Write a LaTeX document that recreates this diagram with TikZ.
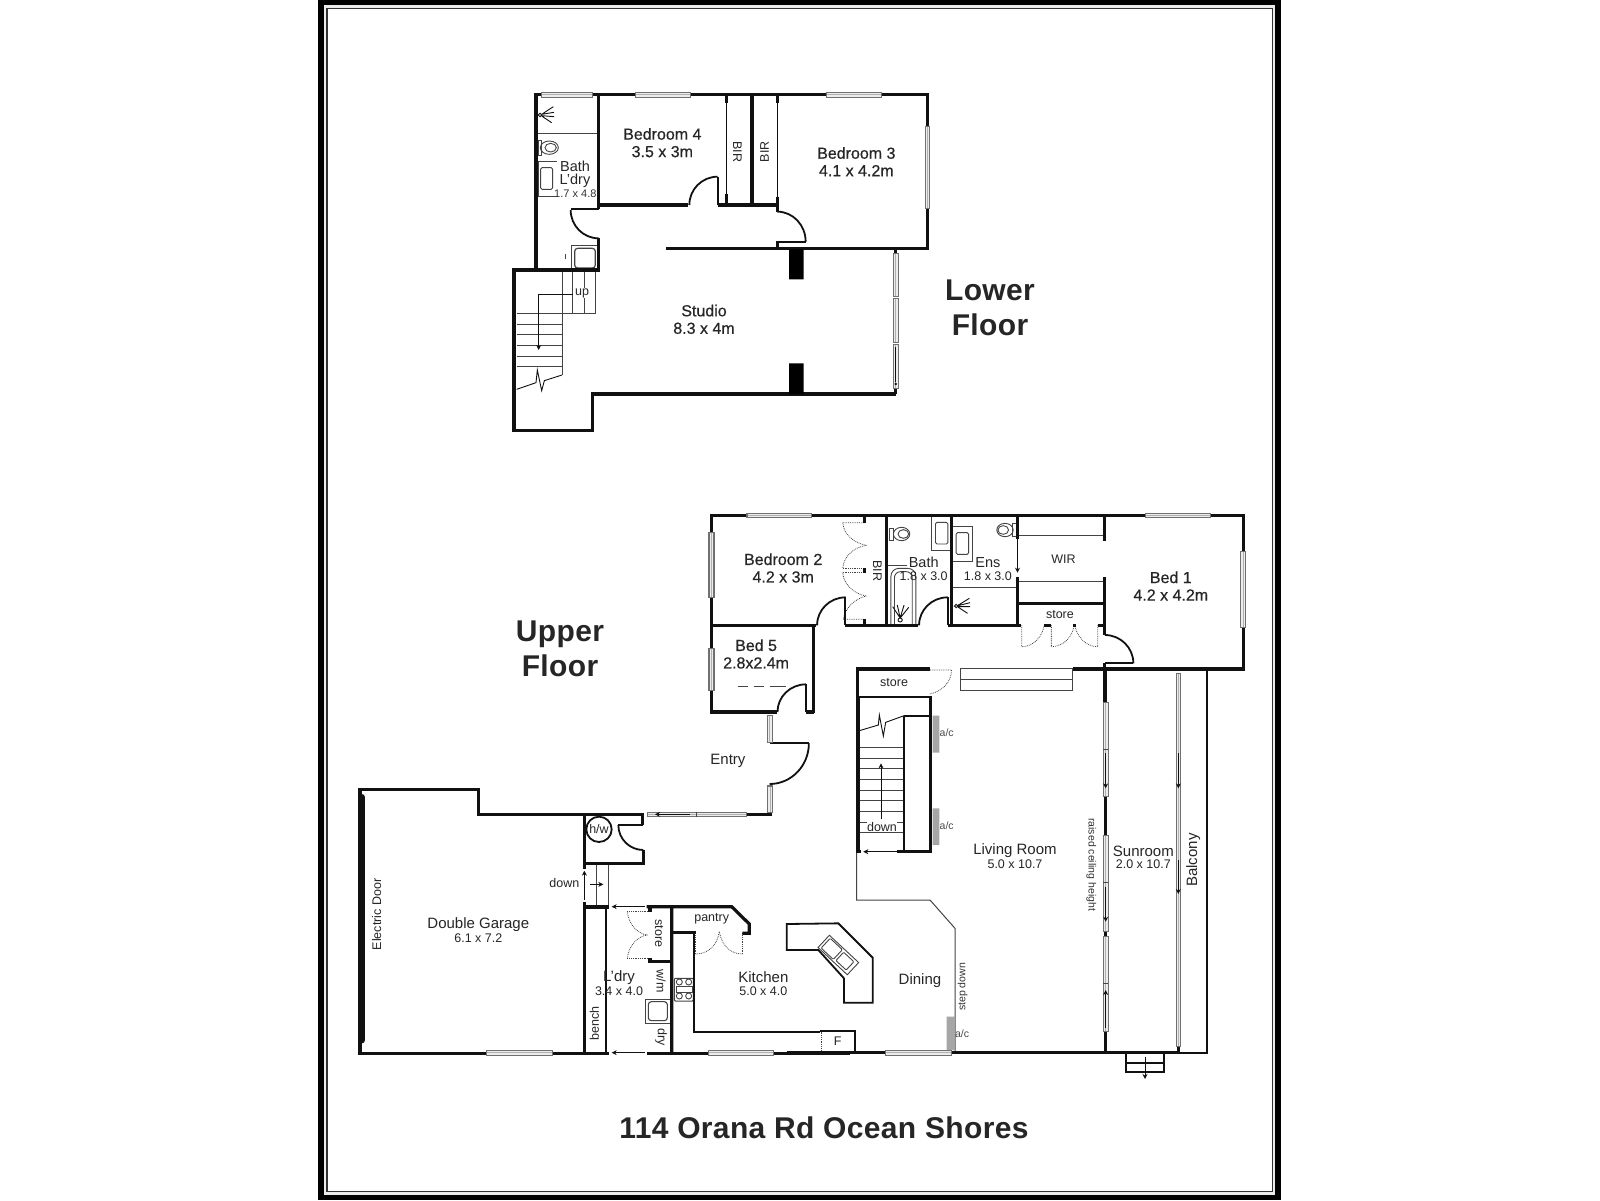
\documentclass[tikz,border=0pt]{standalone}
\usepackage{fontspec}
\setmainfont{Liberation Sans}
\newfontfamily\semibf[FakeBold=0.5]{Liberation Sans}
\usetikzlibrary{arrows.meta}
\definecolor{wallc}{HTML}{111111}
\definecolor{glassc}{HTML}{ECECEC}
\definecolor{fixc}{HTML}{444444}
\definecolor{winedge}{HTML}{707070}
\definecolor{winmid}{HTML}{B0B0B0}
\tikzset{
 wall/.style={draw=wallc,line width=3.2pt,line cap=butt,line join=miter},
 midwall/.style={draw=wallc,line width=1.8pt},
 thinl/.style={draw=wallc,line width=0.9pt},
 fix/.style={draw=fixc,line width=0.9pt},
 doordash/.style={draw=fixc,line width=0.8pt,densely dotted},
 lbl/.style={font=\semibf\fontsize{16}{17.5}\selectfont,align=center,text=black!85,inner sep=0pt},
 lblb/.style={font=\fontsize{15}{14}\selectfont,align=center,text=black!85,inner sep=0pt},
 lbls/.style={font=\fontsize{12.5}{14}\selectfont,align=center,text=black!85,inner sep=0pt},
 lblt/.style={font=\fontsize{10.5}{12}\selectfont,align=center,text=black!80,inner sep=0pt},
 titlet/.style={font=\fontsize{30}{35}\bfseries\selectfont\addfontfeatures{LetterSpace=1.2},align=center,text=black!85,inner sep=0pt},
 arr/.style={draw=wallc,line width=0.8pt,-{Stealth[length=5pt,width=5pt]}},
 zoomc/.style={x=0.33333pt,y=-0.33333pt},
 zoomw/.style={x=0.3566pt,y=-0.33333pt},
}
\newcommand{\winh}[3]{% x1 x2 y
 \fill[winedge] (#1,#3-8.5) rectangle (#2,#3+8.5);
 \fill[glassc] (#1+3,#3-5.5) rectangle (#2-3,#3+5.5);
 \fill[winmid] (#1+3,#3-1.5) rectangle (#2-3,#3+1.5);}
\newcommand{\winv}[3]{% x y1 y2
 \fill[winedge] (#1-8.5,#2) rectangle (#1+8.5,#3);
 \fill[glassc] (#1-5.5,#2+3) rectangle (#1+5.5,#3-3);
 \fill[winmid] (#1-1.5,#2+3) rectangle (#1+1.5,#3-3);}
\begin{document}
\begin{tikzpicture}[x=1pt,y=-1pt]
\useasboundingbox (0,0) rectangle (1600,1200);
\fill[white] (0,0) rectangle (1600,1200);
% frame
\fill[black] (318,0) rectangle (1281,1200);
\fill[glassc] (324,5) rectangle (1275,1194.5);
\fill[black!80] (326,8) rectangle (1273,1192);
\fill[white] (327.5,9) rectangle (1272,1190.5);

% ===== LOWER FLOOR =====
\begin{scope}[shift={(500,80)},zoomc]
 % fixtures
 \draw[fix] (108,160)--(296,160);
 \draw[fix] (50,700)--(186,700) (50,732)--(186,732) (50,764)--(186,764) (50,796)--(186,796) (50,828)--(186,828) (50,860)--(186,860);
 \draw[fix] (186,570)--(186,885) (218,570)--(218,700) (252,570)--(252,700) (287,570)--(287,700) (186,700)--(287,700);
 \draw[thinl] (50,928)--(108,908)--(112,870)--(125,932)--(133,902)--(186,885);
 \draw[arr] (218,642)--(116,642)--(116,810);
 % bath fixtures
 \draw[fix] (148,203) ellipse (27 and 20);
 \draw[fix] (152,203) ellipse (17 and 13);
 \draw[fix] (116,180) rectangle (124,225);
 \draw[fix] (115,245)--(172,245) (115,245)--(115,350)--(172,350);
 \draw[fix,rounded corners=1.5pt] (122,263) rectangle (158,328);
 \draw[fix] (214,497) rectangle (294,570);
 \draw[fix,rounded corners=3pt,line width=1.2pt] (224,505) rectangle (286,564);
 \draw[fix] (196,523)--(196,538);
 \draw[thinl] (120,105) circle (5);
 \draw[thinl] (125,103)--(160,80) (125,103)--(162,97) (125,107)--(162,110) (125,108)--(155,128);
 % walls
 \draw[wall] (108,570)--(108,44)--(1282,44)--(1282,506)--(497,506);
 \draw[wall] (108,570)--(42,570)--(42,1052)--(278,1052)--(278,942)--(1188,942);
 \draw[wall] (296,44)--(296,388) (296,475)--(296,570)--(108,570);
 \draw[wall] (296,375)--(565,375) (655,375)--(832,375);
 \draw[midwall] (296,388)--(212,388);
 \draw[midwall] (212,390) arc[start angle=180,end angle=270,x radius=84,y radius=-85];
 \draw[wall] (756,44)--(756,375);
 \draw[thinl] (680,44)--(680,375) (832,44)--(832,395);
 \draw[wall] (680,44)--(680,68) (680,342)--(680,375) (832,44)--(832,70) (832,350)--(832,395);
 \draw[midwall] (655,375)--(655,290);
 \draw[midwall] (568,375) arc[start angle=180,end angle=90,x radius=85,y radius=-85];
 \draw[midwall] (832,395) arc[start angle=90,end angle=0,x radius=85,y radius=-90];
 \draw[midwall] (832,485)--(917,485);
 \draw[wall] (832,482)--(832,506);
 \fill[black] (867,508) rectangle (911,598) (867,850) rectangle (911,942);
 % windows
 \winh{122}{280}{44} \winh{405}{574}{44} \winh{977}{1146}{44}
 \winv{1282}{137}{387}
 \draw[wall] (1187,506)--(1187,518);
 \winv{1187}{518}{652} \winv{1187}{655}{790} \winv{1187}{793}{928}
 \draw[wall] (1187,928)--(1187,942);
 \draw[thinl] (1187,800)--(1187,905);
 \fill[wallc] (1187,912) circle (4);
 % labels
 \node[lbl] (bed4) at (487,188) {Bedroom 4\\3.5 x 3m};
 \node[lbl] (bed3) at (1069,245) {Bedroom 3\\4.1 x 4.2m};
 \node[lbl] (studio) at (612,718) {Studio\\8.3 x 4m};
 \node[lbls,rotate=-90] (bir1) at (712,215) {BIR};
 \node[lbls,rotate=90] (bir2) at (794,215) {BIR};
 \node[lbl,font=\fontsize{14.5}{12.5}\selectfont] (bathl) at (225,283) {Bath\\L’dry};
 \node[lblt,font=\fontsize{11}{12}\selectfont] (bathd) at (226,340) {1.7 x 4.8};
 \node[lblb,font=\fontsize{12.5}{14}\selectfont,fill=white,inner sep=0.5pt] (up) at (246,640) {up};
\end{scope}
\node[titlet] (lowerfl) at (990,308) {Lower\\Floor};
\node[titlet] (upperfl) at (560,649) {Upper\\Floor};

% ===== UPPER RIGHT =====
\begin{scope}[shift={(700.1,500)},zoomw]
 % fixtures
 \draw[fix] (527,195)--(580,195);
 \draw[fix] (565,102) ellipse (23 and 20);
 \draw[fix] (570,102) ellipse (15 and 13);
 \draw[fix] (530,85) rectangle (542,122);
 \draw[fix] (650,50) rectangle (705,150);
 \draw[fix,rounded corners=1.5pt] (660,67) rectangle (695,132);
 \draw[fix] (710,78)--(765,78)--(765,183)--(710,183);
 \draw[fix,rounded corners=1.5pt] (718,98) rectangle (753,163);
 \draw[fix] (710,262)--(890,262);
 \draw[fix] (855,90) ellipse (23 and 20);
 \draw[fix] (850,90) ellipse (15 and 13);
 \draw[fix] (875,70) rectangle (888,110);
 \draw[fix,rounded corners=8pt] (535,372)--(535,205)--(605,205)--(605,372);
 \draw[fix,rounded corners=6pt] (545,372)--(545,215)--(595,215)--(595,372);
 \draw[fix] (537,372)--(605,372);
 \draw[thinl] (561,360) circle (6);
 \draw[thinl] (561,354)--(540,320) (561,354)--(553,315) (561,354)--(572,315) (561,354)--(585,322);
 \draw[thinl] (718,318) circle (5);
 \draw[thinl] (723,316)--(755,295) (723,317)--(757,308) (723,320)--(757,320) (723,321)--(750,340);
 \draw[fix] (890,105)--(1135,105) (890,243)--(1135,243);
 % dashed doors
 \draw[doordash] (400,68)--(462,68) (400,68) .. controls (402,105) and (435,130) .. (466,136);
 \draw[doordash] (400,205)--(462,205) (400,218)--(462,218);
 \draw[doordash] (466,136) .. controls (430,142) and (402,170) .. (400,205);
 \draw[doordash] (400,218) .. controls (402,255) and (435,283) .. (466,288);
 \draw[doordash] (402,358)--(462,358) (402,358) .. controls (405,325) and (435,295) .. (466,288);
 \draw[doordash] (902,376)--(902,440) (902,440) .. controls (935,440) and (960,410) .. (965,376);
 \draw[doordash] (985,376)--(985,440) (985,440) .. controls (1020,440) and (1045,410) .. (1050,372);
 \draw[doordash] (1115,376)--(1115,440) (1115,440) .. controls (1082,440) and (1055,410) .. (1050,372);
 \draw[doordash] (645,510)--(705,510) (705,510) .. controls (705,545) and (680,575) .. (643,582);
 \draw[fix] (105,558)--(135,558) (150,558)--(180,558) (195,558)--(240,558);
 % bench
 \draw[fix,line width=1pt] (731,505) rectangle (1045,570);
 \draw[fix,line width=1pt] (731,537)--(1045,537);
 % walls
 \draw[wall] (215,636)--(32,636)--(32,46)--(1523,46)--(1523,507)--(1135,507);
 \draw[wall] (32,376)--(325,376) (318,376)--(318,638) (297,636)--(320,636);
 \draw[wall] (407,376)--(612,376) (695,376)--(900,376);
 \draw[wall] (522,46)--(522,376) (705,46)--(705,376);
 \draw[wall] (890,46)--(890,118) (890,232)--(890,376) (890,310)--(1135,310);
 \draw[wall] (1135,46)--(1135,122) (1135,230)--(1135,405);
 \draw[wall] (462,46)--(462,68) (462,205)--(462,220) (462,358)--(462,376);
 \draw[wall] (965,376)--(985,376) (1045,376)--(1055,376) (1115,376)--(1135,376);
 \draw[wall] (1135,490)--(1135,607);
 \draw[wall] (1045,507)--(1135,507);
 \draw[wall] (442,590)--(442,507)--(645,507);
 \draw[midwall] (442,590)--(645,590);
 \draw[midwall] (1135,405) arc[start angle=90,end angle=0,x radius=80,y radius=-85];
 \draw[midwall] (1135,490)--(1215,490);
 \draw[midwall] (328,376) arc[start angle=180,end angle=90,x radius=80,y radius=-84];
 \draw[midwall] (407,292)--(407,376);
 \draw[midwall] (614,376) arc[start angle=180,end angle=90,x radius=80,y radius=-84];
 \draw[midwall] (695,292)--(695,376);
 \draw[midwall] (217,636) arc[start angle=180,end angle=90,x radius=80,y radius=-83];
 \draw[midwall] (297,553)--(297,636);
 \draw[midwall] (195,730)--(305,730);
 \draw[midwall] (305,730) arc[start angle=0,end angle=-90,x radius=110,y radius=-122];
 \draw[arr] (890,118)--(890,218);
 \winh{130}{315}{46} \winh{1248}{1432}{46}
 \winv{32}{95}{293} \winv{32}{443}{573} \winv{1523}{153}{383}
 \winv{195}{645}{730} \winv{195}{855}{940}
 \node[lbl] (bed2) at (233,204) {Bedroom 2\\4.2 x 3m};
 \node[lbl] (bed5) at (157,462) {Bed 5\\2.8x2.4m};
 \node[lbl] (bed1) at (1320,258) {Bed 1\\4.2 x 4.2m};
 \node[lbls,font=\fontsize{14.5}{14}\selectfont] (bathn) at (627,187) {Bath};
 \node[lbls] (bathd2) at (627,229) {1.8 x 3.0};
 \node[lbls,font=\fontsize{14.5}{14}\selectfont] (ensn) at (807,187) {Ens};
 \node[lbls] (ensd) at (807,229) {1.8 x 3.0};
 \node[lbls,rotate=-90] (bir3) at (497,212) {BIR};
 \node[lbls] (wir) at (1019,177) {WIR};
 \node[lbls] (store1) at (1009,345) {store};
 \node[lbls] (store2) at (544,547) {store};
 \node[lblb] (entry) at (78,782) {Entry};
\end{scope}

% ===== UPPER LEFT =====
\begin{scope}[shift={(350,780)},zoomc]
 \draw[fix,line width=1pt] (740,255)--(740,380) (776,255)--(776,380);
 \draw[arr] (720,313)--(760,313);
 \draw[arr] (703,360)--(703,272);
 \draw[arr] (885,380)--(785,380);
 \draw[arr] (885,818)--(785,818);
 \draw[doordash] (832,395)--(898,395) (832,535)--(898,535);
 \draw[doordash] (832,395) .. controls (836,435) and (865,462) .. (892,465);
 \draw[doordash] (832,535) .. controls (836,495) and (865,468) .. (892,465);
 \draw[doordash] (1037,460)--(1037,522) (1177,460)--(1177,522);
 \draw[doordash] (1037,522) .. controls (1075,522) and (1102,495) .. (1108,455);
 \draw[doordash] (1177,522) .. controls (1140,522) and (1115,495) .. (1108,455);
 % cooktop and sink
 \draw[fix,line width=1pt,rounded corners=1pt] (973,595) rectangle (1030,663);
 \foreach \cx/\cy in {988/606,1016/606,988/648,1016/648} \draw[fix] (\cx,\cy) circle (9);
 \draw[fix] (978,618) rectangle (1026,636);
 \draw[fix,line width=1pt] (887,657) rectangle (960,730);
 \draw[fix,line width=1.1pt,rounded corners=3pt] (895,665) rectangle (952,722);
 % walls
 \draw[wall] (703,820)--(30,820)--(30,28)--(385,28)--(385,103)--(878,103)--(878,135);
 \draw[wall] (703,103)--(703,268) (703,250)--(880,250)--(880,210);
 \draw[midwall] (805,135)--(878,135);
 \draw[midwall] (805,135) arc[start angle=180,end angle=270,x radius=75,y radius=-75];
 \draw[wall] (703,366)--(703,820) (703,381)--(776,381);
 \draw[midwall] (767,380)--(767,820);
 \draw[wall] (965,380)--(965,820) (890,380)--(1145,380)--(1198,432)--(1198,460)--(1177,460);
 \draw[wall] (900,380)--(900,395) (900,535)--(900,545)--(965,545);
 \draw[wall] (965,458)--(1037,458);
 \draw[wall] (703,820)--(778,820) (890,820)--(1500,820);
 \draw[midwall] (1032,458)--(1032,755)--(1410,755);
 \draw[doordash] (1415,755)--(1415,818);
 \draw[wall,line width=7pt,line cap=round] (35,52)--(35,780);
 \draw[midwall,fill=white] (747,148) circle (38);
 \winh{408}{610}{818} \winh{1073}{1273}{818} \winh{890}{1190}{103}
 \draw[fix] (1040,96)--(1040,110);
 \draw[arr] (1020,103)--(915,103);
 \draw[wall] (1190,103)--(1265,103);
 \winv{1260}{18}{100}
 \node[lbls] (hw) at (747,148) {h/w};
 \node[lblb] (garage) at (385,434) {Double Garage};
 \node[lbls] (garaged) at (385,475) {6.1 x 7.2};
 \node[lbls,rotate=90] (edoor) at (80,403) {Electric Door};
 \node[lbls] (downg) at (643,308) {down};
 \node[lblb] (ldry) at (807,593) {L’dry};
 \node[lbls] (ldryd) at (807,633) {3.4 x 4.0};
 \node[lbls,rotate=-90] (store3) at (927,460) {store};
 \node[lbls,rotate=-90] (wm) at (933,603) {w/m};
 \node[lbls,rotate=-90] (dry) at (933,772) {dry};
 \node[lbls,rotate=90] (bench) at (733,730) {bench};
 \node[lbls] (pantry) at (1085,415) {pantry};
 \node[lblb] (kitchen) at (1240,592) {Kitchen};
 \node[lbls] (kitchend) at (1240,633) {5.0 x 4.0};
\end{scope}

% ===== UPPER RIGHT LOWER =====
\begin{scope}[shift={(820,680)},zoomc]
 \draw[fix] \foreach \ty in {202,234,266,298,330,362,394,426,458} {(118,\ty)--(250,\ty)};
 \draw[arr] (183,418)--(183,250);
 \draw[thinl] (118,152)--(175,135)--(178,105)--(190,168)--(197,127)--(252,107);
 \draw[fix,line width=1pt] (110,515)--(110,660)--(330,660)--(405,745)--(405,1115);
 \fill[gray!70] (338,107) rectangle (358,218) (338,385) rectangle (358,495) (380,1010) rectangle (405,1110);
 \draw[wall] (114,48)--(114,518) (331,48)--(331,518) (232,515)--(333,515);
 \draw[wall] (112,515)--(122,515);
 \draw[midwall] (253,107)--(253,515) (253,107)--(331,107);
 \draw[arr] (230,515)--(130,515);
 % island
 \draw[midwall] (-100,732)--(-100,810)--(-5,810)--(72,895)--(72,968)--(158,968)--(158,833)--(55,730)--cycle;
 \begin{scope}[shift={(55,825)},rotate=-43]
  \draw[fix,line width=0.9pt] (-60,-25) rectangle (60,25);
  \draw[fix,rounded corners=1pt] (-52,-20) rectangle (-2,20);
  \draw[fix,rounded corners=1pt] (6,-17) rectangle (48,17);
 \end{scope}
 % fridge
 \draw[midwall] (0,1052)--(104,1052)--(104,1118);
 % main lines
 \draw[wall] (857,-27)--(857,1118);
 \draw[wall] (1075,1100)--(1075,1118);
 \draw[wall] (-100,1118)--(1080,1118);
 \draw[midwall] (1160,-27)--(1160,1120)--(1075,1120);
 \draw[midwall] (917,1120)--(917,1177)--(1032,1177)--(1032,1120) (917,1150)--(1032,1150);
 \draw[arr] (975,1130)--(975,1197);
 \winv{857}{65}{350} \winv{857}{465}{755} \winv{857}{767}{1055}
 \winv{1075}{-21}{1100}
 \winh{195}{397}{1118}
 \draw[fix] (850,208)--(864,208) (850,608)--(864,608) (850,910)--(864,910);
 \foreach \ax/\ay/\by in {857/220/325,857/620/725,1075/220/325,1075/540/642,857/1045/930}
   \draw[arr,line width=1.4pt] (\ax,\ay)--(\ax,\by);
 \node[lbls,fill=white,inner sep=0.5pt] (down) at (186,441) {down};
 \node[lblt,text=black!70] (ac1) at (380,159) {a/c};
 \node[lblt,text=black!70] (ac2) at (380,436) {a/c};
 \node[lblt,text=black!70] (ac3) at (426,1061) {a/c};
 \node[lblb] (living) at (585,513) {Living Room};
 \node[lbls] (livingd) at (585,554) {5.0 x 10.7};
 \node[lblb] (sun) at (970,513) {Sunroom};
 \node[lbls] (sund) at (970,554) {2.0 x 10.7};
 \node[lblb,rotate=90] (balcony) at (1120,540) {Balcony};
 \node[lblb] (dining) at (300,903) {Dining};
 \node[lblt,rotate=90] (stepd) at (428,921) {step down};
 \node[lblt,rotate=-90] (raised) at (814,554) {raised ceiling height};
 \node[lbls] (fr) at (53,1083) {F};
\end{scope}
\node[titlet] (addr) at (824,1128) {114 Orana Rd Ocean Shores};
\end{tikzpicture}
\end{document}
